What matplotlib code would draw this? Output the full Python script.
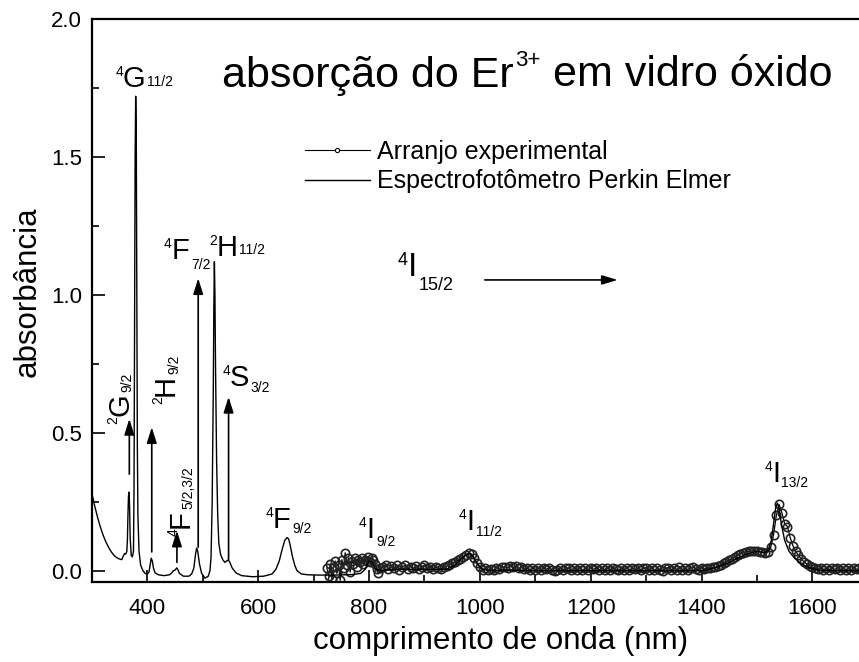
import numpy as np
import matplotlib
matplotlib.use('Agg')
import matplotlib.pyplot as plt
from matplotlib.lines import Line2D
from matplotlib.ticker import MultipleLocator, FormatStrFormatter

plt.rcParams['font.family'] = ['Liberation Sans', 'DejaVu Sans']

# espectrofotometro Perkin Elmer (nm, absorbancia)
spec_wl = [300, 305, 310, 315, 320, 325, 330, 335, 340, 345, 350, 354, 357, 359, 361, 363,
           364, 365, 366, 367, 368, 369, 371, 373, 375, 376, 377, 378, 379, 380, 381, 382,
           383, 385, 388, 392, 396, 400, 403, 405, 407, 409, 411, 414, 420, 430, 440, 444,
           447, 450, 453, 455, 458, 465, 475, 480, 484, 487, 489, 491, 494, 498, 504, 510,
           513, 515, 517, 519, 520, 521, 522, 523, 525, 527, 529, 532, 536, 540, 543, 546,
           549, 553, 560, 570, 590, 610, 625, 632, 638, 643, 648, 652, 655, 658, 662, 666,
           670, 678, 690, 710, 740, 770, 785, 793, 800, 806, 812, 820, 850, 900, 940, 955,
           965, 975, 982, 988, 995, 1005, 1020, 1050, 1100, 1200, 1300, 1400, 1425, 1445,
           1465, 1485, 1500, 1512, 1520, 1526, 1530, 1534, 1537, 1540, 1544, 1550, 1558,
           1568, 1580, 1595, 1610, 1640, 1700]
spec_abs = [0.28, 0.235, 0.195, 0.16, 0.13, 0.105, 0.085, 0.068, 0.055, 0.047, 0.042, 0.04,
            0.055, 0.062, 0.06, 0.07, 0.11, 0.2, 0.27, 0.285, 0.23, 0.12, 0.055, 0.05, 0.07,
            0.3, 0.9, 1.5, 1.72, 1.6, 1.0, 0.45, 0.2, 0.07, 0.02, 0.0, -0.01, -0.012, -0.005,
            0.02, 0.045, 0.035, 0.01, -0.008, -0.015, -0.018, -0.015, -0.008, 0.0, 0.002,
            0.01, 0.004, -0.01, -0.02, -0.02, -0.012, 0.01, 0.06, 0.082, 0.07, 0.025, -0.01,
            -0.027, -0.02, 0.0, 0.05, 0.25, 0.65, 0.95, 1.12, 1.0, 0.75, 0.4, 0.2, 0.1, 0.06,
            0.04, 0.03, 0.035, 0.039, 0.03, 0.01, -0.008, -0.018, -0.022, -0.02, -0.012,
            0.005, 0.035, 0.075, 0.11, 0.12, 0.115, 0.09, 0.05, 0.02, 0.0, -0.012, -0.015,
            -0.016, -0.016, -0.014, -0.01, 0.005, 0.035, 0.03, 0.005, 0.0, 0.005, 0.005,
            0.005, 0.02, 0.04, 0.058, 0.062, 0.05, 0.025, 0.005, 0.0, 0.002, 0.0, 0.0, 0.0,
            0.0, 0.01, 0.025, 0.045, 0.063, 0.07, 0.066, 0.07, 0.11, 0.17, 0.23, 0.245, 0.225,
            0.17, 0.11, 0.07, 0.045, 0.025, 0.01, 0.002, 0.0, 0.0]

# arranjo experimental: nuvem 724-820 nm (passo 3) e banda 825-1700 nm (passo 5)
cloud_abs = [0.01, -0.02, 0.025, -0.03, 0.015, 0.035, -0.01, 0.02, -0.035, 0.04, 0.01,
             0.065, 0.02, 0.045, -0.005, 0.035, 0.025, 0.045, 0.015, 0.04, 0.03, 0.045,
             0.025, 0.04, 0.035, 0.05, 0.03, 0.045, 0.04, 0.025, 0.005, -0.01, 0.008]
band_abs = [0.015, 0.022, 0.006, 0.018, 0.009, 0.02, 0.004, 0.014, 0.019, 0.007, 0.015,
            0.009, 0.017, 0.005, 0.014, 0.019, 0.008, 0.015, 0.006, 0.013, 0.01, 0.007,
            0.013, 0.016, 0.021, 0.026, 0.031, 0.037, 0.043, 0.051, 0.058, 0.064, 0.06,
            0.046, 0.027, 0.012, 0.004, 0.008, 0.001, 0.007, 0.002, 0.011, 0.005, 0.012,
            0.015, 0.011, 0.017, 0.012, 0.016, 0.009, 0.012, 0.005, 0.01, 0.003, 0.009,
            0.004, 0.01, 0.002, 0.008, 0.005, 0.011, 0.001, -0.002, 0.004, 0.009, 0.003,
            0.008, 0.01, 0.002, 0.009, 0.004, 0.01, 0.001, 0.008, 0.003, 0.01, 0.005,
            0.009, 0.002, 0.008, 0.004, 0.011, 0.003, 0.009, 0.005, 0.001, 0.008, 0.004,
            0.011, 0.003, 0.008, 0.005, 0.01, 0.002, 0.009, 0.011, 0.004, 0.009, 0.002,
            0.008, 0.004, 0.0, 0.009, 0.011, 0.003, 0.009, 0.004, 0.012, 0.002, 0.008,
            0.004, 0.01, 0.014, 0.006, 0.004, 0.01, 0.006, 0.011, 0.009, 0.012, 0.013,
            0.016, 0.02, 0.026, 0.032, 0.038, 0.044, 0.05, 0.056, 0.061, 0.065, 0.068,
            0.07, 0.071, 0.072, 0.071, 0.069, 0.066, 0.064, 0.068, 0.085, 0.13, 0.2,
            0.24, 0.21, 0.17, 0.16, 0.12, 0.09, 0.07, 0.055, 0.042, 0.032, 0.024,
            0.018, 0.013, 0.01, 0.006, 0.009, 0.004, 0.008, 0.003, 0.009, 0.005, 0.008,
            0.003, 0.009, 0.004, 0.008, 0.003, 0.009, 0.005, 0.008, 0.003, 0.007, 0.005]
exp_wl = np.concatenate([724 + 3 * np.arange(len(cloud_abs)),
                         825 + 5 * np.arange(len(band_abs))])
exp_abs = np.array(cloud_abs + band_abs)

# setas de transicao: (x, y inicio, y ponta)
arrows = [(367.5, 0.35, 0.55), (408, 0.068, 0.52), (453.4, 0.03, 0.145),
          (491.8, 0.085, 1.06), (546.6, 0.04, 0.63)]

fig = plt.figure(figsize=(8.59, 6.62), dpi=100)
ax = fig.add_axes([0.1070, 0.1213, 0.9032, 0.850])

ax.plot(exp_wl, exp_abs, color='black', lw=0.9, marker='o', ms=6, mfc='none',
        mec='#222222', mew=1.2, zorder=2)
ax.plot(spec_wl, spec_abs, color='black', lw=1.0, zorder=3)

for x, y0, y1 in arrows:
    ax.annotate('', xy=(x, y1), xytext=(x, y0),
                arrowprops=dict(arrowstyle='-|>,head_length=0.95,head_width=0.3',
                                mutation_scale=10, lw=1.2, color='black',
                                shrinkA=0, shrinkB=0))
ax.annotate('', xy=(1249, 1.054), xytext=(1009, 1.054),
            arrowprops=dict(arrowstyle='-|>,head_length=0.95,head_width=0.28',
                            mutation_scale=10, lw=1.2, color='black',
                            shrinkA=0, shrinkB=0))


def level(x, y, sup, main, sub, rot=0, size=21, small=10, sub_dy=0.0):
    t = ax.text(x, y, main, fontsize=size, rotation=rot, rotation_mode='anchor',
                ha='left', va='baseline')
    if rot == 0:
        sup_xy, sub_xy, off = (0, 1), (1, 0.23), (1, sub_dy)
    else:
        sup_xy, sub_xy, off = (0, 0), (0.77, 1), (-sub_dy, 1)
    ax.annotate(sup, xy=sup_xy, xycoords=t, ha='right', va='top', fontsize=small,
                rotation=rot, rotation_mode='anchor')
    ax.annotate(sub, xy=sub_xy, xycoords=t, xytext=off, textcoords='offset points',
                ha='left', va='baseline', fontsize=small, rotation=rot,
                rotation_mode='anchor')


level(356, 1.755, '4', 'G', '11/2')
level(366.2, 0.559, '2', 'G', '9/2', rot=90, sub_dy=-2)
level(447.4, 0.632, '2', 'H', '9/2', rot=90, sub_dy=-4)
level(474.5, 0.155, '4', 'F', '5/2,3/2', rot=90, sub_dy=-3)
level(444, 1.129, '4', 'F', '7/2', sub_dy=-7)
level(525.6, 1.142, '2', 'H', '11/2', sub_dy=1)
level(549, 0.668, '4', 'S', '3/2', sub_dy=-4)
level(626.6, 0.155, '4', 'F', '9/2', sub_dy=-4)
level(796, 0.119, '4', 'I', '9/2', sub_dy=-6)
level(976.6, 0.148, '4', 'I', '11/2', sub_dy=-5)
level(1527, 0.323, '4', 'I', '13/2', sub_dy=-4)
level(870, 1.068, '4', 'I', '15/2', size=24, small=13, sub_dy=-10)

# titulo: Er com expoente 3+
t1 = ax.text(535, 1.755, 'absorção do Er', fontsize=31, ha='left', va='baseline')
t2 = ax.annotate('3+', xy=(1, 1), xycoords=t1, xytext=(1, 4),
                 textcoords='offset points', ha='left', va='top', fontsize=16)
ax.annotate(' em vidro óxido', xy=(1, 0.23), xycoords=(t2, t1), ha='left',
            va='baseline', fontsize=31)

handles = [Line2D([], [], color='black', lw=0.8, marker='o', ms=3, mfc='white',
                  mec='black', mew=0.8),
           Line2D([], [], color='black', lw=1.0)]
ax.legend(handles, ['Arranjo experimental', 'Espectrofotômetro Perkin Elmer'],
          loc='upper left', bbox_to_anchor=(0.2745, 0.785), frameon=False,
          fontsize=18, handlelength=2.6, handletextpad=0.3, labelspacing=0.22,
          borderpad=0, borderaxespad=0)

ax.set_xlim(300, 1700)
ax.set_ylim(-0.04, 2.0)
ax.xaxis.set_major_locator(MultipleLocator(200))
ax.xaxis.set_minor_locator(MultipleLocator(100))
ax.yaxis.set_major_locator(MultipleLocator(0.5))
ax.yaxis.set_minor_locator(MultipleLocator(0.25))
ax.yaxis.set_major_formatter(FormatStrFormatter('%.1f'))
ax.tick_params(which='both', direction='in', top=False, right=False, width=1.2,
               labelsize=16)
ax.tick_params(which='major', length=9)
ax.tick_params(axis='x', which='major', pad=12)
ax.tick_params(axis='y', which='major', pad=7)
ax.tick_params(which='minor', length=5)
for s in ax.spines.values():
    s.set_linewidth(1.6)

ax.set_xlabel('comprimento de onda (nm)', fontsize=22.5)
ax.set_ylabel('absorbância', fontsize=22.5)
ax.xaxis.set_label_coords(0.527, -0.079)
ax.yaxis.set_label_coords(-0.064, 0.515)

fig.savefig('out.png', dpi=100)
